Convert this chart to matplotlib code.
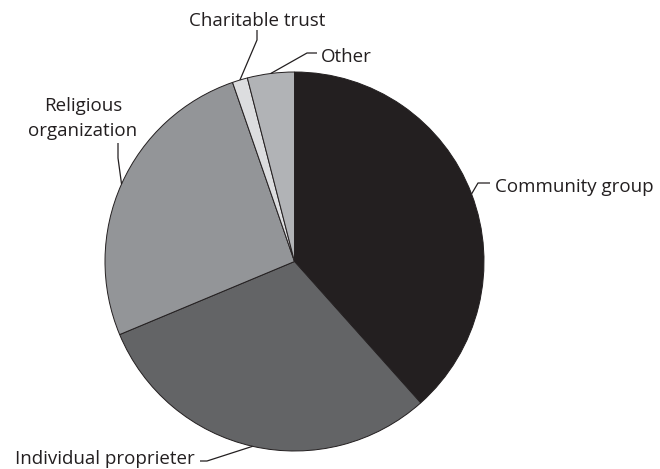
import numpy as np
import matplotlib
matplotlib.use("Agg")
import matplotlib.pyplot as plt

categories = ["Community group", "Individual proprieter", "Religious organization", "Charitable trust", "Other"]
values = [38.4, 30.3, 26.0, 1.3, 4.0]
colors = ["#231f20", "#636466", "#939598", "#dcdddf", "#b1b3b6"]
label_texts = ["Community group", "Individual proprieter", "Religious\norganization", "Charitable trust", "Other"]

W, H = 660, 469
CX, CY, R = 294.5, 261.5, 189.5

fig = plt.figure(figsize=(W / 100, H / 100), dpi=100)
ax = fig.add_axes([0, 0, 1, 1])

wedges, _ = ax.pie(values, colors=colors, startangle=90, counterclock=False,
                   radius=1.0, center=(0, 0),
                   wedgeprops=dict(edgecolor="#231f20", linewidth=0.7))

def px(x, y):
    return ((x - CX) / R, (CY - y) / R)

ax.set_xlim(px(0, 0)[0], px(W, 0)[0])
ax.set_ylim(px(0, H)[1], px(0, 0)[1])
ax.set_aspect("auto")
ax.axis("off")

font = dict(family=["Open Sans", "DejaVu Sans"], fontsize=13.5, color="#231f20")

# leader layout: (elbow px, end px, text anchor px, ha, line step px)
layout = {
    "Community group": ((478, 183), (490, 183), (495, 191.5), "left"),
    "Other": ((307, 53), (317, 53), (321, 61.5), "left"),
    "Charitable trust": ((257, 40), (257, 30), (257, 25.5), "center"),
    "Religious organization": ((118, 158), (118, 143), (83, 110.5), "center"),
    "Individual proprieter": ((207, 461), (200, 461), (195, 464.5), "right"),
}
LINE_STEP = 25.5

for w, cat, txt in zip(wedges, categories, label_texts):
    mid = np.deg2rad((w.theta1 + w.theta2) / 2)
    ax_pt = (np.cos(mid), np.sin(mid))
    elbow, end, tpos, ha = layout[cat]
    e = px(*elbow)
    n = px(*end)
    ax.plot([ax_pt[0], e[0], n[0]], [ax_pt[1], e[1], n[1]], color="#231f20", lw=0.9,
            solid_capstyle="butt")
    for i, line in enumerate(txt.split("\n")):
        t = px(tpos[0], tpos[1] + i * LINE_STEP)
        ax.text(t[0], t[1], line, ha=ha, va="baseline", **font)

fig.savefig("out.png", dpi=100)
